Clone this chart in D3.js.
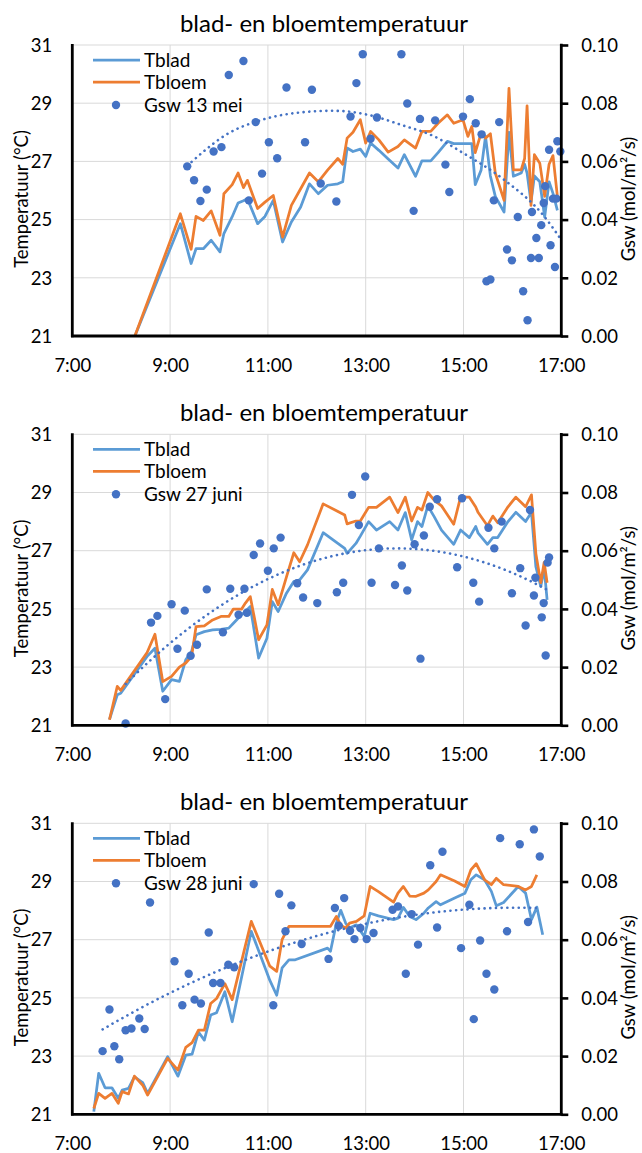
<!DOCTYPE html>
<html lang="nl">
<head>
<meta charset="UTF-8">
<title>blad- en bloemtemperatuur</title>
<script src="https://cdn.jsdelivr.net/npm/d3@7/dist/d3.min.js"></script>
<style>
  body { margin: 0; background: #fff; }
  svg text { font-family: Lato, "Open Sans", sans-serif; fill: #000; }
  .tick text { font-size: 18.5px; }
  .grid line { stroke: #d9d9d9; stroke-width: 1; }
</style>
</head>
<body>
<svg id="chart" width="642" height="1153"></svg>
<script>
// ---- 13 mei ----
const time13mei = [8.28, 9.21, 9.43, 9.53, 9.68, 9.84, 10.02, 10.10, 10.27, 10.39, 10.50, 10.58, 10.79, 10.94, 11.11, 11.30, 11.48, 11.67, 11.85, 12.03, 12.22, 12.43, 12.53, 12.62, 12.74, 12.89, 13.00, 13.10, 13.27, 13.46, 13.66, 13.79, 14.02, 14.15, 14.33, 14.48, 14.67, 14.80, 14.99, 15.09, 15.17, 15.24, 15.36, 15.45, 15.55, 15.65, 15.83, 15.93, 16.02, 16.18, 16.25, 16.30, 16.38, 16.45, 16.56, 16.66, 16.75, 16.83, 16.92];
const tblad13mei = [21.0, 24.86, 23.49, 24.0, 24.0, 24.29, 23.89, 24.52, 25.1, 25.57, 25.65, 25.72, 24.86, 25.11, 25.66, 24.23, 24.92, 25.43, 26.23, 25.89, 26.18, 26.23, 26.3, 27.46, 27.34, 27.42, 27.17, 27.63, 27.38, 27.08, 26.77, 27.23, 26.49, 27.02, 27.02, 27.3, 27.69, 27.61, 27.61, 27.61, 27.61, 26.2, 26.7, 27.86, 26.5, 25.8, 25.26, 28.0, 26.49, 26.6, 26.9, 26.6, 25.6, 26.5, 26.3, 25.09, 26.3, 25.9, 25.32];
const tbloem13mei = [21.0, 25.2, 23.98, 25.11, 24.97, 25.3, 24.46, 25.89, 26.2, 26.6, 26.1, 26.35, 25.38, 25.6, 25.83, 24.4, 25.49, 26.06, 26.6, 26.3, 26.7, 27.1, 26.9, 27.8, 28.0, 28.43, 27.63, 28.03, 27.74, 27.32, 27.51, 27.74, 27.46, 28.03, 28.03, 28.31, 28.6, 28.31, 28.43, 27.86, 28.2, 27.3, 27.97, 27.8, 27.95, 26.6, 25.66, 29.51, 26.71, 26.71, 27.1, 28.91, 25.49, 27.23, 26.94, 25.8, 26.9, 27.2, 25.8];
const gswTime13mei = [9.35, 9.49, 9.62, 9.75, 9.89, 10.05, 10.20, 10.50, 10.61, 10.75, 10.88, 11.02, 11.19, 11.38, 11.76, 11.90, 12.08, 12.40, 12.69, 12.81, 12.94, 13.10, 13.23, 13.73, 13.85, 13.98, 14.11, 14.42, 14.63, 14.71, 14.99, 15.13, 15.25, 15.37, 15.47, 15.55, 15.62, 15.73, 15.89, 15.99, 16.11, 16.22, 16.31, 16.38, 16.40, 16.49, 16.54, 16.59, 16.64, 16.67, 16.75, 16.78, 16.83, 16.87, 16.90, 16.92, 16.98];
const gsw13mei = [0.0583, 0.0535, 0.0464, 0.0503, 0.0634, 0.0649, 0.0897, 0.0945, 0.0466, 0.0735, 0.0558, 0.0666, 0.0611, 0.0854, 0.0666, 0.0846, 0.0524, 0.0462, 0.0754, 0.0869, 0.0968, 0.0678, 0.0751, 0.0968, 0.0799, 0.0430, 0.0746, 0.0741, 0.0589, 0.0495, 0.0754, 0.0814, 0.0731, 0.0693, 0.0188, 0.0194, 0.0466, 0.0735, 0.0297, 0.0260, 0.0409, 0.0154, 0.0054, 0.0268, 0.0426, 0.0337, 0.0268, 0.0381, 0.0457, 0.0515, 0.0640, 0.0312, 0.0472, 0.0237, 0.0472, 0.0669, 0.0634];
// trendline
const trendTime13mei = [9.35, 10.2, 10.88, 11.55, 12.34, 13.05, 13.72, 14.4, 14.99, 15.83, 16.66, 16.98];
const trendGsw13mei = [0.0585, 0.0697, 0.0743, 0.0766, 0.0774, 0.0760, 0.0726, 0.0686, 0.0629, 0.0537, 0.0409, 0.0335];

// ---- 27 juni ----
const time27juni = [7.76, 7.92, 7.99, 8.53, 8.69, 8.85, 9.03, 9.19, 9.32, 9.44, 9.53, 9.70, 9.87, 10.04, 10.20, 10.29, 10.46, 10.54, 10.64, 10.81, 10.98, 11.09, 11.21, 11.38, 11.53, 11.65, 11.81, 12.13, 12.57, 12.62, 12.80, 12.89, 13.06, 13.22, 13.49, 13.66, 13.81, 13.94, 14.06, 14.15, 14.27, 14.40, 14.55, 14.80, 14.94, 15.12, 15.25, 15.30, 15.49, 15.60, 15.70, 15.91, 16.07, 16.27, 16.39, 16.48, 16.58, 16.65, 16.71];
const tblad27juni = [21.2, 22.05, 22.1, 23.37, 23.65, 22.17, 22.57, 22.51, 23.25, 23.54, 24.11, 24.22, 24.28, 24.30, 24.34, 24.5, 24.8, 24.91, 25.08, 23.31, 23.99, 25.25, 24.91, 25.54, 25.94, 26.0, 26.34, 27.62, 27.08, 26.91, 27.25, 27.5, 28.0, 27.71, 28.0, 27.71, 28.31, 27.37, 28.0, 27.83, 28.54, 28.17, 27.71, 27.22, 27.71, 27.45, 27.83, 27.6, 27.22, 27.45, 27.45, 28.0, 28.32, 28.0, 28.32, 26.45, 25.77, 26.4, 25.31];
const tbloem27juni = [21.19, 22.34, 22.2, 23.5, 24.13, 22.5, 22.68, 23.0, 23.14, 23.37, 24.39, 24.42, 24.62, 24.74, 24.74, 24.99, 24.99, 25.2, 25.42, 23.94, 24.45, 25.67, 25.14, 26.1, 26.93, 26.62, 27.2, 28.61, 28.23, 27.92, 28.02, 28.02, 28.49, 28.49, 28.84, 28.31, 28.84, 28.02, 28.49, 28.4, 29.0, 28.74, 28.54, 27.91, 28.84, 28.84, 28.5, 28.31, 27.86, 28.19, 27.96, 28.51, 28.84, 28.51, 28.92, 26.9, 25.9, 26.6, 25.9];
const gswTime27juni = [8.09, 8.61, 8.74, 8.90, 9.03, 9.15, 9.30, 9.42, 9.55, 9.75, 10.08, 10.23, 10.40, 10.52, 10.57, 10.71, 10.84, 11.00, 11.12, 11.26, 11.60, 11.72, 12.01, 12.41, 12.54, 12.72, 12.86, 12.99, 13.12, 13.27, 13.60, 13.74, 13.85, 14.00, 14.12, 14.19, 14.31, 14.46, 14.87, 14.97, 15.20, 15.32, 15.51, 15.63, 15.78, 15.99, 16.16, 16.27, 16.36, 16.44, 16.47, 16.60, 16.64, 16.68, 16.72, 16.75];
const gsw27juni = [0.0006, 0.0353, 0.0376, 0.0090, 0.0416, 0.0263, 0.0394, 0.0239, 0.0277, 0.0467, 0.0320, 0.0469, 0.0380, 0.0469, 0.0387, 0.0585, 0.0625, 0.0531, 0.0608, 0.0645, 0.0488, 0.0439, 0.0420, 0.0457, 0.0490, 0.0792, 0.0688, 0.0855, 0.0490, 0.0608, 0.0482, 0.0549, 0.0463, 0.0622, 0.0229, 0.0652, 0.0751, 0.0777, 0.0543, 0.0780, 0.0490, 0.0425, 0.0679, 0.0608, 0.0700, 0.0454, 0.0540, 0.0343, 0.0740, 0.0446, 0.0507, 0.0371, 0.0420, 0.0240, 0.0559, 0.0577];

// ---- 28 juni ----
const time28juni = [7.44, 7.54, 7.67, 7.81, 7.94, 8.02, 8.15, 8.27, 8.44, 8.54, 8.95, 9.16, 9.32, 9.45, 9.58, 9.70, 9.83, 9.95, 10.12, 10.27, 10.66, 11.04, 11.18, 11.29, 11.43, 11.56, 12.22, 12.28, 12.40, 12.49, 12.59, 12.67, 12.81, 12.97, 13.09, 13.26, 13.57, 13.66, 13.77, 13.90, 14.03, 14.19, 14.28, 14.44, 14.53, 14.82, 15.03, 15.15, 15.26, 15.43, 15.57, 15.67, 15.82, 16.12, 16.27, 16.39, 16.50, 16.62];
const tblad28juni = [21.09, 22.41, 21.91, 21.91, 21.55, 21.83, 21.89, 22.29, 22.09, 21.72, 22.98, 22.31, 23.03, 23.07, 23.83, 23.55, 24.41, 24.49, 25.21, 24.18, 27.29, 25.6, 25.09, 26.03, 26.31, 26.31, 26.71, 26.6, 27.57, 28.01, 27.57, 27.4, 27.51, 27.11, 27.91, 27.82, 27.69, 27.74, 28.11, 27.8, 27.69, 27.91, 28.09, 28.31, 28.2, 28.43, 28.6, 29.06, 29.23, 29.06, 28.66, 28.17, 28.28, 28.83, 28.6, 27.69, 28.12, 27.17];
const tbloem28juni = [21.2, 21.72, 21.55, 21.72, 21.38, 21.78, 21.7, 22.31, 22.0, 21.66, 22.92, 22.52, 23.3, 23.46, 23.89, 23.89, 24.81, 24.98, 25.49, 24.94, 27.63, 26.09, 25.91, 27.0, 27.46, 27.46, 27.46, 27.46, 27.8, 27.5, 27.4, 27.57, 27.63, 27.82, 28.83, 28.65, 28.29, 28.6, 28.83, 28.5, 28.49, 28.6, 28.71, 29.0, 29.23, 29.02, 28.83, 29.4, 29.61, 29.06, 28.89, 29.11, 28.89, 28.83, 28.71, 28.83, 29.23, null];
const gswTime28juni = [7.62, 7.76, 7.86, 7.96, 8.09, 8.21, 8.37, 8.48, 8.59, 9.09, 9.25, 9.38, 9.50, 9.63, 9.79, 9.88, 10.03, 10.19, 10.31, 10.71, 11.11, 11.23, 11.36, 11.48, 11.69, 12.24, 12.37, 12.45, 12.56, 12.68, 12.77, 12.89, 13.02, 13.16, 13.55, 13.66, 13.82, 13.94, 14.07, 14.32, 14.46, 14.57, 14.95, 15.12, 15.21, 15.34, 15.47, 15.63, 15.75, 15.89, 16.15, 16.32, 16.44, 16.56];
const gsw28juni = [0.0217, 0.0360, 0.0234, 0.0189, 0.0289, 0.0295, 0.0329, 0.0293, 0.0728, 0.0526, 0.0375, 0.0483, 0.0394, 0.0381, 0.0625, 0.0451, 0.0451, 0.0514, 0.0505, 0.0791, 0.0375, 0.0758, 0.0629, 0.0718, 0.0585, 0.0534, 0.0709, 0.0648, 0.0743, 0.0631, 0.0602, 0.0640, 0.0602, 0.0623, 0.0703, 0.0714, 0.0483, 0.0688, 0.0583, 0.0856, 0.0642, 0.0902, 0.0571, 0.0720, 0.0327, 0.0597, 0.0483, 0.0429, 0.0949, 0.0629, 0.0928, 0.0661, 0.0979, 0.0886];

const tempTicks = [21, 23, 25, 27, 29, 31];
const gswTicks = [0, 0.02, 0.04, 0.06, 0.08, 0.10];
const hourTicks = [7, 9, 11, 13, 15, 17];

const panels = [
  { top: 45,    label: 'Gsw 13 mei',  time: time13mei, blad: tblad13mei, bloem: tbloem13mei, gt: gswTime13mei, gsw: gsw13mei,
    trendT: trendTime13mei, trendV: trendGsw13mei },
  { top: 434.3, label: 'Gsw 27 juni', time: time27juni, blad: tblad27juni, bloem: tbloem27juni, gt: gswTime27juni, gsw: gsw27juni },
  { top: 823.3, label: 'Gsw 28 juni', time: time28juni, blad: tblad28juni, bloem: tbloem28juni, gt: gswTime28juni, gsw: gsw28juni }
];

const blue = '#5b9bd5', orange = '#ed7d31', dotBlue = '#4472c4';
const left = 72.3, right = 561.3, plotH = 291;

// least squares 2nd order polynomial (excel style trendline)
function polyFit(xs, ys) {
  const n = 3;
  const x0 = d3.mean(xs);
  const m = d3.range(n).map(() => new Array(n + 1).fill(0));
  xs.forEach((xv, i) => {
    const u = xv - x0;
    for (let r = 0; r < n; r++) {
      for (let c = 0; c < n; c++) m[r][c] += Math.pow(u, r + c);
      m[r][n] += ys[i] * Math.pow(u, r);
    }
  });
  for (let c = 0; c < n; c++) {
    for (let r = c + 1; r < n; r++) {
      const f = m[r][c] / m[c][c];
      for (let k = c; k <= n; k++) m[r][k] -= f * m[c][k];
    }
  }
  const a = new Array(n).fill(0);
  for (let r = n - 1; r >= 0; r--) {
    let v = m[r][n];
    for (let k = r + 1; k < n; k++) v -= m[r][k] * a[k];
    a[r] = v / m[r][r];
  }
  return xv => a.reduce((s, c, k) => s + c * Math.pow(xv - x0, k), 0);
}

const svg = d3.select('#chart');

panels.forEach(p => {
  const top = p.top, bottom = top + plotH;
  const x = d3.scaleLinear().domain([7, 17]).range([left, right]);
  const y = d3.scaleLinear().domain([21, 31]).range([bottom, top]);
  const y2 = d3.scaleLinear().domain([0, 0.1]).range([bottom, top]);
  const g = svg.append('g');

  // title
  g.append('text').attr('x', 324).attr('y', top - 13)
    .attr('text-anchor', 'middle').style('font-size', '24px')
    .text('blad- en bloemtemperatuur');

  // grid
  const grid = g.append('g').attr('class', 'grid');
  grid.selectAll('.h').data(tempTicks.slice(1)).enter().append('line')
    .attr('x1', left).attr('x2', right).attr('y1', d => y(d)).attr('y2', d => y(d));
  grid.selectAll('.v').data(hourTicks.slice(1)).enter().append('line')
    .attr('y1', top).attr('y2', bottom).attr('x1', d => x(d)).attr('x2', d => x(d));

  // axes labels
  const ax = g.append('g').attr('transform', `translate(${left},0)`)
    .call(d3.axisLeft(y).tickValues(tempTicks).tickSize(0).tickPadding(20));
  ax.select('.domain').remove();
  ax.selectAll('text').attr('dy', '0.34em');

  const ax2 = g.append('g').attr('transform', `translate(${right},0)`)
    .call(d3.axisRight(y2).tickValues(gswTicks).tickSize(7).tickPadding(13).tickFormat(d3.format('.2f')));
  ax2.select('.domain').remove();
  ax2.selectAll('line').attr('stroke', '#000').attr('stroke-width', 2.6);
  ax2.selectAll('text').attr('dy', '0.34em');

  const axb = g.append('g').attr('transform', `translate(0,${bottom})`)
    .call(d3.axisBottom(x).tickValues(hourTicks).tickSize(0).tickPadding(23).tickFormat(d => d + ':00'));
  axb.select('.domain').remove();

  // series lines
  const rows = p.time.map((t, i) => ({ t: t, blad: p.blad[i], bloem: p.bloem[i] }));
  const lineBlad = d3.line().defined(d => d.blad != null).x(d => x(d.t)).y(d => y(d.blad));
  const lineBloem = d3.line().defined(d => d.bloem != null).x(d => x(d.t)).y(d => y(d.bloem));
  const clipId = 'clip' + Math.round(top);
  g.append('clipPath').attr('id', clipId).append('rect')
    .attr('x', left).attr('y', top - 4).attr('width', right - left).attr('height', plotH + 4);
  const plot = g.append('g').attr('clip-path', `url(#${clipId})`);
  plot.append('path').datum(rows).attr('d', lineBlad)
    .attr('fill', 'none').attr('stroke', blue).attr('stroke-width', 2.75).attr('stroke-linejoin', 'round');
  plot.append('path').datum(rows).attr('d', lineBloem)
    .attr('fill', 'none').attr('stroke', orange).attr('stroke-width', 2.75).attr('stroke-linejoin', 'round');

  // Gsw scatter
  const pts = p.gt.map((t, i) => ({ t: t, v: p.gsw[i] }));
  g.selectAll('circle.gsw').data(pts).enter().append('circle')
    .attr('cx', d => x(d.t)).attr('cy', d => y2(d.v)).attr('r', 4.2).attr('fill', dotBlue);

  let trendPts;
  let curve = d3.curveLinear;
  if (p.trendT) {
    trendPts = p.trendT.map((t, i) => [t, p.trendV[i]]);
    curve = d3.curveMonotoneX;
  } else {
    const f = polyFit(p.gt, p.gsw);
    const ext = d3.extent(p.gt);
    trendPts = d3.range(0, 81).map(i => ext[0] + (ext[1] - ext[0]) * i / 80).map(t => [t, f(t)]);
  }
  g.append('path').datum(trendPts)
    .attr('d', d3.line().curve(curve).x(d => x(d[0])).y(d => y2(d[1])))
    .attr('fill', 'none').attr('stroke', dotBlue).attr('stroke-width', 2.6)
    .attr('stroke-linecap', 'round').attr('stroke-dasharray', '0.1 5.6');

  // axis lines
  g.append('line').attr('x1', left).attr('x2', left).attr('y1', top - 1).attr('y2', bottom + 1.3)
    .attr('stroke', '#000').attr('stroke-width', 2.8);
  g.append('line').attr('x1', right).attr('x2', right).attr('y1', top - 1.3).attr('y2', bottom + 1.3)
    .attr('stroke', '#000').attr('stroke-width', 2.8);
  g.append('line').attr('x1', left - 1.3).attr('x2', right + 1.3).attr('y1', bottom).attr('y2', bottom)
    .attr('stroke', '#000').attr('stroke-width', 2.8);

  // axis titles
  const mid = top + 154;
  g.append('text').attr('transform', `translate(22,${mid}) rotate(-90)`)
    .attr('text-anchor', 'middle').attr('dy', '0.35em').style('font-size', '18.5px')
    .text('Temperatuur (°C)');
  g.append('text').attr('transform', `translate(629,${mid}) rotate(-90)`)
    .attr('text-anchor', 'middle').attr('dy', '0.35em').style('font-size', '18.5px')
    .text('Gsw (mol/m²/s)');

  // legend
  const leg = g.append('g').attr('transform', `translate(0,${top})`);
  [['Tblad', blue, 15], ['Tbloem', orange, 37]].forEach(([name, col, dy]) => {
    leg.append('line').attr('x1', 93).attr('x2', 140).attr('y1', dy).attr('y2', dy)
      .attr('stroke', col).attr('stroke-width', 2.75);
    leg.append('text').attr('x', 144).attr('y', dy).attr('dy', '0.35em').style('font-size', '19px').text(name);
  });
  leg.append('circle').attr('cx', 116).attr('cy', 60).attr('r', 4.2).attr('fill', dotBlue);
  leg.append('text').attr('x', 144).attr('y', 60).attr('dy', '0.35em').style('font-size', '19px').text(p.label);
});
</script>
</body>
</html>
